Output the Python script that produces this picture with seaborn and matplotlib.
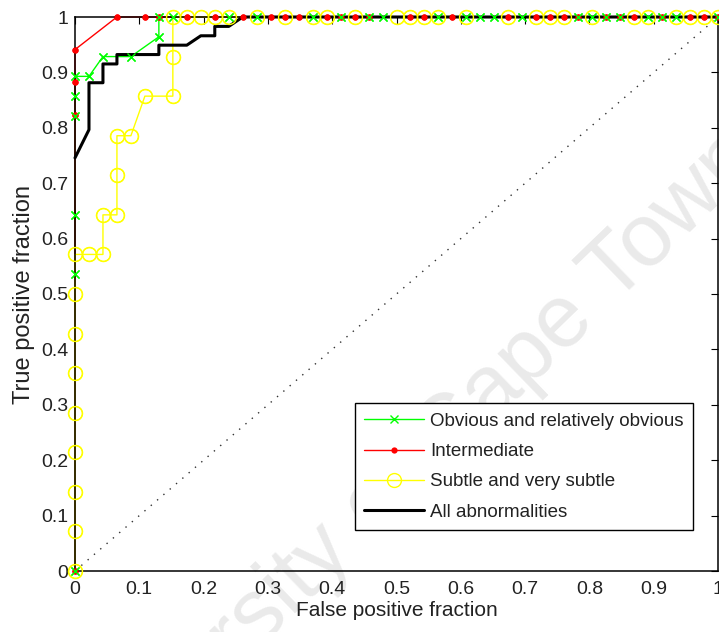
import matplotlib
matplotlib.use("Agg")
import matplotlib.pyplot as plt
import seaborn as sns
import pandas as pd
from matplotlib import font_manager

# ---------------- data ----------------
N_NEG = 46          # normal cases -> false positive fraction denominator
N_OBV = 28          # obvious and relatively obvious
N_INT = 17          # intermediate
N_SUB = 14          # subtle and very subtle
N_ALL = 59          # all abnormalities

obv_fp = [0, 0, 0, 0, 0, 0, 1, 2, 4, 6, 6, 7, 11, 13, 17, 19, 21, 22, 26, 28,
          29, 30, 32, 36, 37, 38, 39, 41, 42, 43, 46]
obv_tp = [0, 15, 18, 23, 24, 25, 25, 26, 26, 27, 28, 28, 28, 28, 28, 28, 28, 28,
          28, 28, 28, 28, 28, 28, 28, 28, 28, 28, 28, 28, 28]

int_fp = [0, 0, 0, 0, 3, 5, 6, 8, 10, 12, 14, 15, 16, 18, 19, 20, 21, 24, 25, 27,
          31, 33, 34, 35, 36, 38, 39, 40, 42, 44, 45, 46]
int_tp = [0, 14, 15, 16, 17, 17, 17, 17, 17, 17, 17, 17, 17, 17, 17, 17, 17, 17,
          17, 17, 17, 17, 17, 17, 17, 17, 17, 17, 17, 17, 17, 17]

sub_fp = [0, 0, 0, 0, 0, 0, 0, 0, 0, 1, 2, 2, 3, 3, 3, 4, 5, 7, 7, 7,
          8, 9, 10, 11, 13, 15, 17, 18, 20, 23, 24, 25, 26, 28, 31, 33, 34, 35,
          37, 40, 41, 43, 44, 45, 46]
sub_tp = [0, 1, 2, 3, 4, 5, 6, 7, 8, 8, 8, 9, 9, 10, 11, 11, 12, 12, 13, 14,
          14, 14, 14, 14, 14, 14, 14, 14, 14, 14, 14, 14, 14, 14, 14, 14, 14, 14,
          14, 14, 14, 14, 14, 14, 14]

all_fp = [0, 1, 1, 2, 2, 3, 3, 6, 6, 8, 9, 10, 10, 11, 12, 46]
all_tp = [44, 47, 52, 52, 54, 54, 55, 55, 56, 56, 57, 57, 58, 58, 59, 59]

chance_x = [0, 1]
chance_y = [0, 1]

labels = ["Obvious and relatively obvious", "Intermediate",
          "Subtle and very subtle", "All abnormalities"]
x_ticks = [0, 0.1, 0.2, 0.3, 0.4, 0.5, 0.6, 0.7, 0.8, 0.9, 1]
tick_labels = ["0", "0.1", "0.2", "0.3", "0.4", "0.5", "0.6", "0.7", "0.8", "0.9", "1"]

# ---------------- styling ----------------
sns.set_theme(style="white")
names = {f.name for f in font_manager.fontManager.ttflist}
base_font = "Liberation Sans" if "Liberation Sans" in names else "DejaVu Sans"
narrow_font = "Liberation Sans Narrow" if "Liberation Sans Narrow" in names else base_font
plt.rcParams["font.family"] = [base_font, "DejaVu Sans"]

fig = plt.figure(figsize=(7.19, 6.32), dpi=100)
ax = fig.add_axes([75 / 719, 61 / 632, 643 / 719, 554 / 632])
ax.set_facecolor("white")

# watermark
ax.text(0.56, 0.245, "University of Cape Town", transform=fig.transFigure,
        rotation=44, fontsize=64, color="#eaeaea", ha="center", va="center",
        rotation_mode="anchor", zorder=0.5, clip_on=False, family=[base_font])

def frame(fp, tp, n_pos):
    return pd.DataFrame({"fpf": [v / N_NEG for v in fp],
                         "tpf": [v / n_pos for v in tp]})

d_chance = pd.DataFrame({"fpf": chance_x, "tpf": chance_y})
sns.lineplot(data=d_chance, x="fpf", y="tpf", ax=ax, sort=False, estimator=None,
             color="#333333", lw=1.0, linestyle=(0, (1, 5)), zorder=1)

series = [
    (frame(obv_fp, obv_tp, N_OBV), labels[0], "#00ff00",
     dict(marker="x", markersize=6, mew=1.0, mec="#00ff00")),
    (frame(int_fp, int_tp, N_INT), labels[1], "#ff0000",
     dict(marker="o", markersize=4.5, mew=0, mfc="#ff0000")),
    (frame(sub_fp, sub_tp, N_SUB), labels[2], "#ffff00",
     dict(marker="o", markersize=10, mew=1.0, mfc="none", mec="#ffff00")),
]

# lines (under the axes frame) with markers for the legend
for df, lab, col, mk in series:
    sns.lineplot(data=df, x="fpf", y="tpf", ax=ax, sort=False, estimator=None,
                 color=col, lw=1.0, label=lab, clip_on=False, zorder=2, **mk)
sns.lineplot(data=frame(all_fp, all_tp, N_ALL), x="fpf", y="tpf", ax=ax,
             sort=False, estimator=None, color="black", lw=2.2,
             label=labels[3], clip_on=False, zorder=3.2)
# markers on top of the axes frame
for df, lab, col, mk in reversed(series):
    sns.lineplot(data=df, x="fpf", y="tpf", ax=ax, sort=False, estimator=None,
                 color=col, linestyle="none", clip_on=False, zorder=3.4,
                 legend=False, **mk)

ax.set_xlim(0, 1)
ax.set_ylim(0, 1)
ax.set_xticks(x_ticks)
ax.set_yticks(x_ticks)
ax.set_xticklabels(tick_labels, family=[narrow_font], fontsize=14)
ax.set_yticklabels(tick_labels, family=[narrow_font], fontsize=14)
ax.tick_params(direction="in", top=True, right=True, length=5, width=0.8,
               color="black", pad=5, labelcolor="#222222")
ax.tick_params(axis="x", pad=7)
for s in ax.spines.values():
    s.set_color("black")
    s.set_linewidth(1.1)
    s.set_zorder(3.1)

ax.set_xlabel("False positive fraction", fontsize=15, family=[narrow_font],
              color="#222222", labelpad=2)
ax.set_ylabel("True positive fraction", fontsize=17, family=[narrow_font],
              color="#222222", labelpad=4)

handles, hlabels = ax.get_legend_handles_labels()
leg = ax.legend(handles[:4], hlabels[:4], loc="lower right",
                bbox_to_anchor=(0.961, 0.074),
                fontsize=13.5, frameon=True, fancybox=False, framealpha=1,
                edgecolor="black", handlelength=3.2, handletextpad=0.3,
                labelspacing=0.7, borderpad=0.5, borderaxespad=0)
leg.get_frame().set_linewidth(1.0)
leg.set_zorder(5)
for t in leg.get_texts():
    t.set_color("#222222")

fig.savefig("out.png", dpi=100)
